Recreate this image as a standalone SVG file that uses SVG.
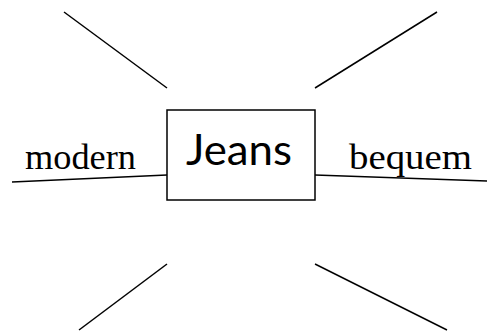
<svg xmlns="http://www.w3.org/2000/svg" width="487" height="331" viewBox="0 0 487 331">
<style>
.ln{stroke:#000;stroke-width:1.5;fill:none}
.lbl{font-family:"Liberation Serif","Times New Roman",serif;font-size:35px;fill:#000}
.box{fill:#fff;stroke:#000;stroke-width:1.5}
.ttl{font-family:Lato,"Open Sans",sans-serif;font-size:43px;fill:#000}
</style>
<rect width="487" height="331" fill="#fff"/>
<g id="connectors">
<line class="ln" x1="64" y1="12" x2="167" y2="88"/>
<line class="ln" x1="437" y1="12" x2="315" y2="88"/>
<line class="ln" x1="167" y1="264" x2="79" y2="330"/>
<line class="ln" x1="315" y1="264" x2="447" y2="330"/>
<line class="ln" x1="12" y1="182" x2="167" y2="175"/>
<line class="ln" x1="315" y1="175" x2="487" y2="181"/>
</g>
<g id="label-modern">
<text class="lbl" x="25" y="169" textLength="111" lengthAdjust="spacingAndGlyphs">modern</text>
</g>
<g id="label-bequem">
<text class="lbl" x="349" y="169" textLength="123" lengthAdjust="spacingAndGlyphs">bequem</text>
</g>
<g id="node-jeans">
<rect class="box" x="167" y="110" width="148" height="90"/>
<text class="ttl" x="186" y="165" textLength="106" lengthAdjust="spacingAndGlyphs">Jeans</text>
</g>
</svg>
